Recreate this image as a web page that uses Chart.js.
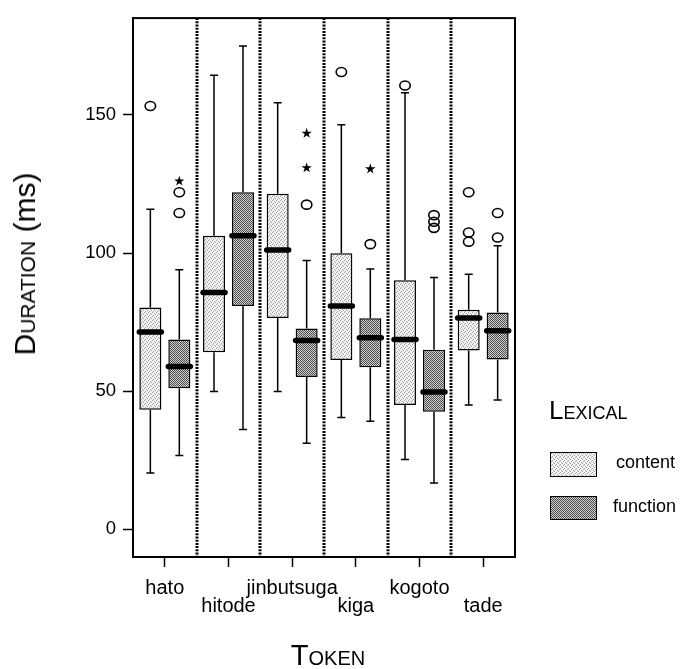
<!DOCTYPE html>
<html>
<head>
<meta charset="utf-8">
<script src="https://cdn.jsdelivr.net/npm/chart.js@4/dist/chart.umd.min.js"></script>
<style>
html,body{margin:0;padding:0;background:#fff;overflow:hidden;}
#wrap{position:relative;width:685px;height:669px;overflow:hidden;font-family:"Liberation Sans",Arial,Helvetica,sans-serif;color:#000;}
#c{position:absolute;left:0;top:0;}
.t{position:absolute;white-space:nowrap;line-height:1;font-family:"Liberation Sans",Arial,sans-serif;color:#000;}
.sc{font-variant:small-caps;}
.sw{position:absolute;box-sizing:border-box;border:1.5px solid #000;}
</style>
</head>
<body>
<div id="wrap">
  <canvas id="c" width="685" height="669"></canvas>
  <div id="ytitle" class="t"><span class="sc" id="ytitleMain"></span><span id="ytitleUnit"></span></div>
  <div id="xtitle" class="t sc"></div>
  <div id="ltitle" class="t sc"></div>
  <canvas id="sw0" class="sw" width="45" height="23"></canvas>
  <canvas id="sw1" class="sw" width="45" height="22"></canvas>
  <div id="ll0" class="t"></div>
  <div id="ll1" class="t"></div>
</div>
<script>
// ---------------- data ----------------
const categories = ['hato', 'hitode', 'jinbutsuga', 'kiga', 'kogoto', 'tade'];
const seriesNames = ['content', 'function'];
const yTicks = [0, 50, 100, 150];
const yTitle = 'Duration';
const yUnit = ' (ms)';
const xTitle = 'Token';
const legendTitle = 'Lexical';

const contentMin    = [20.4, 49.9, 49.9, 40.5, 25.3, 45.0];
const contentQ1     = [43.3, 64.1, 76.5, 61.3, 45.0, 64.7];
const contentMedian = [71.4, 85.7, 101.1, 80.8, 68.7, 76.5];
const contentQ3     = [80.3, 106.2, 121.4, 99.9, 90.1, 79.5];
const contentMax    = [115.8, 164.3, 154.4, 146.4, 158.0, 92.3];
const contentOutliers = [[153.2], [], [], [165.5], [160.6], [122.0, 107.4, 104.1]];
const contentExtremes = [[], [], [], [], [], []];

const functionMin    = [26.7, 36.1, 31.2, 39.1, 16.8, 46.8];
const functionQ1     = [51.1, 80.8, 55.1, 58.7, 42.6, 61.5];
const functionMedian = [58.9, 106.2, 68.3, 69.3, 49.7, 71.9];
const functionQ3     = [68.7, 122.0, 72.7, 76.4, 65.0, 78.5];
const functionMax    = [93.9, 174.9, 97.3, 94.2, 91.1, 102.6];
const functionOutliers = [[122.0, 114.5], [], [117.5], [103.2], [113.7, 111.3, 109.1], [114.5, 105.6]];
const functionExtremes = [[126.0], [], [143.3, 130.8], [130.4], [], []];

// ---------------- styling ----------------
function makePattern(base, dot, cells, size) {
  const c = document.createElement('canvas');
  c.width = c.height = size;
  const g = c.getContext('2d');
  g.fillStyle = base; g.fillRect(0, 0, size, size);
  g.fillStyle = dot;
  cells.forEach(([a, b]) => g.fillRect(a, b, 1, 1));
  return c;
}
const tiles = [
  makePattern('#f3f3f3', '#a0a0a0', [[0,0],[2,1],[1,3],[3,2]], 4),
  makePattern('#d2d2d2', '#4a4a4a', [[0,0],[1,1],[2,0],[3,1],[0,2],[1,3],[2,2],[3,3]], 4)
];
const ctxMain = document.getElementById('c').getContext('2d');
const fills = tiles.map(t => ctxMain.createPattern(t, 'repeat'));

const stats = [
  {min: contentMin, q1: contentQ1, med: contentMedian, q3: contentQ3, max: contentMax, out: contentOutliers, ext: contentExtremes},
  {min: functionMin, q1: functionQ1, med: functionMedian, q3: functionQ3, max: functionMax, out: functionOutliers, ext: functionExtremes}
];

const boxParts = {
  id: 'boxParts',
  beforeDatasetsDraw(chart) {
    const {ctx, chartArea: a, scales: {x}} = chart;
    ctx.save();
    ctx.strokeStyle = '#000';
    ctx.lineWidth = 3;
    ctx.setLineDash([2, 1.2]);
    for (let i = 0; i < categories.length - 1; i++) {
      const px = Math.round((x.getPixelForValue(i) + x.getPixelForValue(i + 1)) / 2);
      ctx.beginPath(); ctx.moveTo(px, a.top); ctx.lineTo(px, a.bottom); ctx.stroke();
    }
    ctx.restore();
  },
  afterDatasetsDraw(chart) {
    const {ctx, scales: {y}} = chart;
    ctx.save();
    ctx.strokeStyle = '#000';
    ctx.fillStyle = '#000';
    stats.forEach((s, d) => {
      const meta = chart.getDatasetMeta(d);
      meta.data.forEach((el, i) => {
        const cx = el.x, w = el.width;
        // whiskers
        ctx.lineWidth = 1.5; ctx.lineCap = 'butt';
        ctx.beginPath();
        ctx.moveTo(cx, y.getPixelForValue(s.q1[i])); ctx.lineTo(cx, y.getPixelForValue(s.min[i]));
        ctx.moveTo(cx, y.getPixelForValue(s.q3[i])); ctx.lineTo(cx, y.getPixelForValue(s.max[i]));
        ctx.stroke();
        ctx.beginPath();
        [s.max[i], s.min[i]].forEach(v => {
          const py = y.getPixelForValue(v);
          ctx.moveTo(cx - 4, py); ctx.lineTo(cx + 4, py);
        });
        ctx.stroke();
        // median
        ctx.lineWidth = 5.5; ctx.lineCap = 'round';
        const pm = y.getPixelForValue(s.med[i]);
        ctx.beginPath(); ctx.moveTo(cx - w / 2, pm); ctx.lineTo(cx + w / 2, pm); ctx.stroke();
        // outliers
        ctx.lineWidth = 1.6; ctx.lineCap = 'butt';
        s.out[i].forEach(v => {
          const py = y.getPixelForValue(v);
          ctx.beginPath(); ctx.ellipse(cx, py, 5.2, 4.5, 0, 0, Math.PI * 2); ctx.stroke();
        });
        // extremes (stars)
        s.ext[i].forEach(v => {
          const py = y.getPixelForValue(v);
          ctx.beginPath();
          for (let k = 0; k < 10; k++) {
            const r = k % 2 === 0 ? 5.5 : 2.1;
            const ang = -Math.PI / 2 + k * Math.PI / 5;
            const px = cx + r * Math.cos(ang), qy = py + r * Math.sin(ang);
            if (k === 0) ctx.moveTo(px, qy); else ctx.lineTo(px, qy);
          }
          ctx.closePath(); ctx.fill();
        });
      });
    });
    ctx.restore();
  },
  afterDraw(chart) {
    const {ctx, chartArea: a} = chart;
    ctx.save();
    ctx.strokeStyle = '#000';
    ctx.lineWidth = 2;
    ctx.strokeRect(a.left, a.top, a.right - a.left, a.bottom - a.top);
    ctx.restore();
  }
};

new Chart(ctxMain, {
  type: 'bar',
  data: {
    labels: categories,
    datasets: stats.map((s, d) => ({
      label: seriesNames[d],
      data: s.q1.map((q, i) => [q, s.q3[i]]),
      backgroundColor: fills[d],
      borderColor: '#000',
      borderWidth: 1.5,
      borderSkipped: false,
      barPercentage: 0.76,
      categoryPercentage: 0.91
    }))
  },
  options: {
    responsive: false,
    devicePixelRatio: 1,
    animation: false,
    layout: {padding: {left: 73, top: 15, right: 170, bottom: 0}},
    plugins: {legend: {display: false}, tooltip: {enabled: false}, title: {display: false}},
    scales: {
      x: {
        type: 'category',
        offset: true,
        grid: {offset: false, drawOnChartArea: false, drawTicks: true, tickLength: 10, tickColor: '#000', tickWidth: 1.5},
        border: {display: true, color: '#000', width: 2},
        ticks: {
          color: '#000', padding: 12, maxRotation: 0, autoSkip: false,
          font: {family: '"Liberation Sans", Arial, sans-serif', size: 20, lineHeight: 0.9},
          callback: (v, i) => (i % 2 === 1 ? ['', categories[i]] : categories[i])
        },
        afterFit: sc => { sc.height = 112; }
      },
      y: {
        min: -10, max: 185,
        grid: {drawOnChartArea: false, drawTicks: true, tickLength: 10, tickColor: '#000', tickWidth: 1.5},
        border: {display: true, color: '#000', width: 2},
        ticks: {color: '#000', padding: 7, font: {family: '"Liberation Sans", Arial, sans-serif', size: 18.5}},
        afterBuildTicks: sc => { sc.ticks = yTicks.map(v => ({value: v})); },
        afterFit: sc => { sc.width = 60; }
      }
    }
  },
  plugins: [boxParts]
});

// ---------------- titles & legend (HTML text) ----------------
function place(id, text, css) {
  const el = document.getElementById(id);
  if (text !== null) el.textContent = text;
  Object.assign(el.style, css);
  return el;
}
document.getElementById('ytitleMain').textContent = yTitle;
document.getElementById('ytitleUnit').textContent = yUnit;
place('ytitle', null, {fontSize: '30px', left: '25px', top: '264px', transform: 'translate(-50%,-50%) rotate(-90deg)'});
place('xtitle', xTitle, {fontSize: '29px', left: '328px', top: (666 - 0.8465 * 29) + 'px', transform: 'translateX(-50%)'});
place('ltitle', legendTitle, {fontSize: '26px', left: '549px', top: (419 - 0.8465 * 26) + 'px'});
place('ll0', seriesNames[0], {fontSize: '18px', left: '616px', top: (468 - 0.8465 * 18) + 'px'});
place('ll1', seriesNames[1], {fontSize: '18px', left: '613px', top: (512 - 0.8465 * 18) + 'px'});
[['sw0', 550, 452], ['sw1', 550, 496]].forEach(([id, l, t], d) => {
  const cv = document.getElementById(id);
  cv.style.left = l + 'px'; cv.style.top = t + 'px';
  const g = cv.getContext('2d');
  g.fillStyle = g.createPattern(tiles[d], 'repeat');
  g.fillRect(0, 0, cv.width, cv.height);
});
</script>
</body>
</html>
